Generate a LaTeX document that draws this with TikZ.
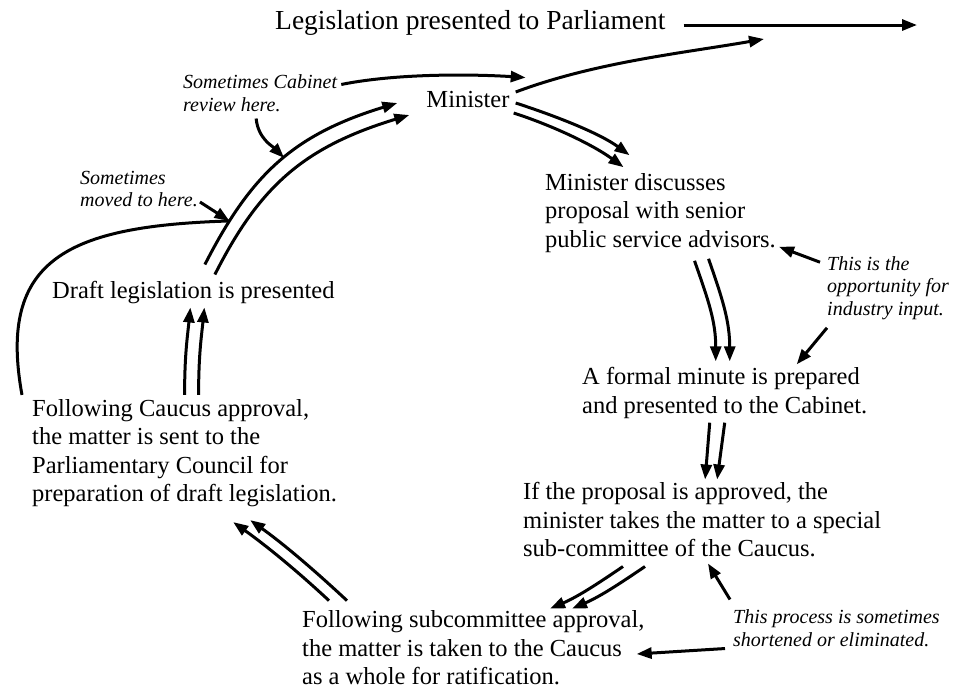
\documentclass[tikz,border=0pt]{standalone}
\usepackage{fontspec}
\setmainfont{Liberation Serif}
\usetikzlibrary{arrows.meta,calc}

\begin{document}
\begin{tikzpicture}[x=1pt, y=-1pt,
  stage/.style={inner sep=0pt, align=left, anchor=west, font=\fontsize{24.5}{28.5}\selectfont},
  remark/.style={inner sep=0pt, align=left, anchor=west, font=\fontsize{20}{22.5}\selectfont\itshape},
  flow/.style={line width=3pt, -{Triangle[length=15pt,width=11pt]}},
  link/.style={line width=3pt}]
\useasboundingbox (0,0) rectangle (954,691);

% Stages
\node[stage, font=\fontsize{27.5}{32}\selectfont] (parliament) at (275,23) {Legislation presented to Parliament};
\node[stage, anchor=center] (minister) at (468,100) {Minister};
\node[stage] (discuss) at (545,213) {Minister discusses\\proposal with senior\\public service advisors.};
\node[stage] (minute) at (582,393) {A formal minute is prepared\\and presented to the Cabinet.};
\node[stage] (proposal) at (523,520) {If the proposal is approved, the\\minister takes the matter to a special\\sub-committee of the Caucus.};
\node[stage] (subcomm) at (302,648) {Following subcommittee approval,\\the matter is taken to the Caucus\\as a whole for ratification.};
\node[stage] (council) at (32,453) {Following Caucus approval,\\the matter is sent to the\\Parliamentary Council for\\preparation of draft legislation.};
\node[stage] (draft) at (52,293) {Draft legislation is presented};

% Remarks
\node[remark] (cabnote) at (183,93) {Sometimes Cabinet\\review here.};
\node[remark] (movenote) at (80,189) {Sometimes\\moved to here.};
\node[remark] (industry) at (827,288) {This is the\\opportunity for\\industry input.};
\node[remark] (shorten) at (733,628) {This process is sometimes\\shortened or eliminated.};

% Free ends
\coordinate (parlend) at (917,25);
\coordinate (parlhigh) at (764,39);

% Out to Parliament
\draw[flow] ($(parliament.east)+(18,2)$) -- (parlend);
\draw[flow] ($(minister.east)+(6,-8)$) .. controls +(80,-30) and +(-80,14) .. (parlhigh);

% Minister to discussion
\draw[flow] ($(minister.east)+(6,3)$) .. controls +(40,13) and +(-30,-22) .. ($(discuss.north)+(-31,-18)$);
\draw[flow] ($(minister.east)+(4,13)$) .. controls +(40,13) and +(-30,-22) .. ($(discuss.north)+(-37,-6)$);

% Discussion to minute
\draw[flow] ($(discuss.south)+(34,8)$) .. controls +(14,40) and +(0,-40) .. ($(minute.north)+(-9,-6)$);
\draw[flow] ($(discuss.south)+(48,6)$) .. controls +(14,40) and +(0,-40) .. ($(minute.north)+(5,-6)$);
\draw[flow] ($(industry.north west)+(-7,6)$) -- ($(discuss.south east)+(3,-6)$);
\draw[flow] ($(industry.south west)+(0,8)$) -- ($(minute.north)+(72,-3)$);

% Minute to proposal
\draw[flow] ($(minute.south)+(-15,4)$) -- ($(proposal.north)+(3,-3)$);
\draw[flow] ($(minute.south)+(0,4)$) -- ($(proposal.north)+(15,-3)$);

% Proposal to subcommittee
\draw[flow] ($(proposal.south west)+(100,9)$) .. controls +(-25,17) and +(28,-12) .. ($(subcomm.north west)+(248,-2)$);
\draw[flow] ($(proposal.south west)+(122,9)$) .. controls +(-25,17) and +(28,-12) .. ($(subcomm.north west)+(270,-2)$);
\draw[flow] ($(shorten.north west)+(-3,-10)$) -- ($(proposal.south west)+(185,6)$);
\draw[flow] ($(shorten.south west)+(-8,2)$) -- ($(subcomm.east)+(-8,6)$);

% Subcommittee to council
\draw[flow] ($(subcomm.north west)+(27,-10)$) .. controls +(-30,-28) and +(35,25) .. ($(council.south east)+(-104,15)$);
\draw[flow] ($(subcomm.north west)+(45,-10)$) .. controls +(-30,-28) and +(35,25) .. ($(council.south east)+(-87,13)$);

% Council to draft
\draw[flow] ($(council.north)+(0,-4)$) .. controls +(0,-40) and +(-3,30) .. ($(draft.south)+(-3,3)$);
\draw[flow] ($(council.north)+(14,-4)$) .. controls +(0,-40) and +(-3,30) .. ($(draft.south)+(11,3)$);

% Draft to Minister
\draw[flow] ($(draft.north)+(11.5,-17)$) .. controls +(45.5,-89) and +(-105,32) .. ($(minister.west)+(-29,3)$)
  coordinate[pos=0.18] (movehit) coordinate[pos=0.53] (revhit);
\draw[flow] ($(draft.north)+(21.5,-7)$) .. controls +(45,-89) and +(-105,32) .. ($(minister.west)+(-17,15)$);

% Remark arrows on the left
\draw[flow] ($(cabnote.north east)+(4,10)$) .. controls +(60,-12) and +(-45,-3) .. ($(minister.north east)+(16,-14)$);
\draw[flow] ($(cabnote.south)+(-4,7)$) .. controls +(2,20) and +(-12,-12) .. (revhit);
\draw[flow] ($(movenote.east)+(2,13)$) -- (movehit);
\draw[link] ($(council.north west)+(-10,-4)$) .. controls +(-25,-137) and +(-160,5) .. (movehit);
\end{tikzpicture}
\end{document}
